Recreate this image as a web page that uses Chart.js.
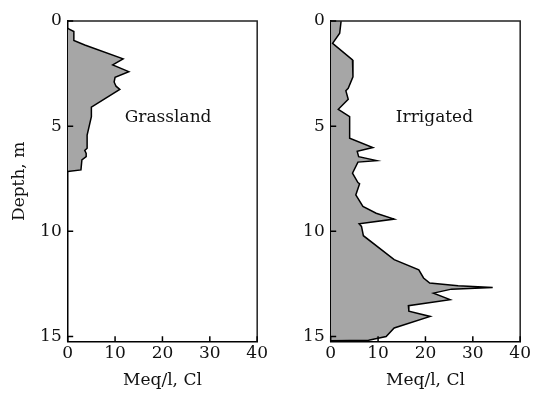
<!DOCTYPE html>
<html>
<head>
<meta charset="utf-8">
<script src="https://cdn.jsdelivr.net/npm/chart.js@4/dist/chart.umd.min.js"></script>
<style>
  html, body { margin: 0; padding: 0; background: #fff; }
  #wrap { position: relative; width: 533px; height: 399px; }
  canvas { position: absolute; top: 0; }
  #grassCanvas { left: 0; }
  #irrCanvas { left: 270px; }
</style>
</head>
<body>
<div id="wrap">
  <canvas id="grassCanvas" width="270" height="399"></canvas>
  <canvas id="irrCanvas" width="263" height="399"></canvas>
</div>
<script>
// Chloride profiles (Meq/l) against depth (m)
const grassDepth = [0.35, 0.5, 0.93, 1.14, 1.8, 2.09, 2.41, 2.68, 2.9, 3.1, 3.25, 4.1, 4.55, 5.42, 6.05, 6.15, 6.3, 6.45, 6.6, 7.08, 7.16];
const grassCl    = [0,    1.3, 1.3,  3.6,  11.7, 9.5, 12.9, 10.0, 9.8, 10.2, 11.0, 5.0, 5.0,  4.1,  4.1,  3.6,  3.9, 3.9,  3.0, 2.8,  0];

const irrDepth = [0, 0.58, 1.06, 1.85, 2.65, 3.2, 3.31, 3.72, 4.2, 4.55, 5.57, 6.02, 6.2, 6.45, 6.64, 6.71, 7.24, 7.68, 7.74, 8.27, 8.82, 9.14, 9.42, 9.64, 9.77, 10.21, 11.35, 11.83, 12.22, 12.46, 12.59, 12.67, 12.75, 12.94, 13.25, 13.54, 13.8, 14.05, 14.6, 15.0, 15.18, 15.2];
const irrCl    = [2.2, 1.9, 0.4, 4.6, 4.7, 3.7, 3.2, 3.7, 1.6, 4.0, 4.0, 8.9, 5.6, 5.9, 9.7, 5.75, 4.6, 5.75, 6.1, 5.3, 6.8, 9.6, 13.4, 6.0, 6.5, 6.9, 13.4, 18.6, 19.6, 20.9, 26.9, 34.2, 25.5, 21.7, 25.2, 16.4, 16.5, 21.0, 13.4, 11.7, 8.0, 0];

const xTicks = [0, 10, 20, 30, 40];
const yTicks = [0, 5, 10, 15];

const FONT = { family: 'DejaVu Serif', size: 17 };

// frame, inward tick marks and panel caption
const framePlugin = {
  id: 'frame',
  afterDatasetsDraw(chart, args, opts) {
    const { ctx, chartArea: a, scales } = chart;
    ctx.save();
    ctx.strokeStyle = '#222';
    ctx.lineWidth = 1.5;
    ctx.beginPath();
    ctx.moveTo(a.left, a.top);
    ctx.lineTo(a.right, a.top);
    ctx.lineTo(a.right, a.bottom);
    ctx.stroke();

    // ticks point into the plot
    ctx.strokeStyle = '#000';
    ctx.lineWidth = 1.5;
    ctx.beginPath();
    xTicks.forEach(v => {
      const px = scales.x.getPixelForValue(v);
      ctx.moveTo(px, a.bottom);
      ctx.lineTo(px, a.bottom - 5.5);
    });
    yTicks.forEach(v => {
      const py = scales.y.getPixelForValue(v);
      ctx.moveTo(a.left, py);
      ctx.lineTo(a.left + 5.5, py);
    });
    ctx.stroke();

    ctx.fillStyle = '#111';
    ctx.font = FONT.size + 'px ' + FONT.family;
    ctx.textAlign = 'center';
    ctx.textBaseline = 'middle';
    ctx.fillText(opts.text, scales.x.getPixelForValue(opts.x), scales.y.getPixelForValue(opts.y));
    ctx.restore();
  }
};

function makeChart(id, depth, cl, caption, yWidth, rightPad, showYTitle) {
  const ctx = document.getElementById(id).getContext('2d');
  return new Chart(ctx, {
    type: 'line',
    data: {
      datasets: [{
        data: depth.map((d, i) => ({ x: cl[i], y: d })),
        borderColor: '#000',
        borderWidth: 1.5,
        backgroundColor: '#a6a6a6',
        fill: 'origin',
        pointRadius: 0,
        tension: 0
      }]
    },
    options: {
      responsive: false,
      animation: false,
      indexAxis: 'y',
      layout: { autoPadding: false, padding: { top: 21, right: rightPad, left: 0, bottom: 0 } },
      plugins: {
        legend: { display: false },
        tooltip: { enabled: false },
        frame: { text: caption.text, x: caption.x, y: caption.y }
      },
      scales: {
        x: {
          type: 'linear',
          position: 'bottom',
          min: 0,
          max: 40,
          afterBuildTicks: s => { s.ticks = xTicks.map(v => ({ value: v })); },
          afterFit: s => { s.height = 57.3; },
          ticks: { color: '#111', font: FONT, padding: 2, maxRotation: 0 },
          grid: { display: false, drawTicks: false },
          border: { display: true, color: '#000', width: 1.5 },
          title: { display: true, text: 'Meq/l, Cl', color: '#111', font: FONT, padding: { bottom: 8 } }
        },
        y: {
          type: 'linear',
          position: 'left',
          reverse: true,
          min: 0,
          max: 15.25,
          afterBuildTicks: s => { s.ticks = yTicks.map(v => ({ value: v })); },
          afterFit: s => { s.width = yWidth; },
          ticks: { color: '#111', font: FONT, padding: 6 },
          grid: { display: false, drawTicks: false },
          border: { display: true, color: '#000', width: 1.5 },
          title: { display: showYTitle, text: 'Depth, m', color: '#111', font: FONT, padding: { top: 9 } }
        }
      }
    },
    plugins: [framePlugin]
  });
}

makeChart('grassCanvas', grassDepth, grassCl, { text: 'Grassland', x: 21.2, y: 4.6 }, 67.7, 6.2, true);
makeChart('irrCanvas', irrDepth, irrCl, { text: 'Irrigated', x: 21.9, y: 4.6 }, 60.7, 7.8, false);
</script>
</body>
</html>
